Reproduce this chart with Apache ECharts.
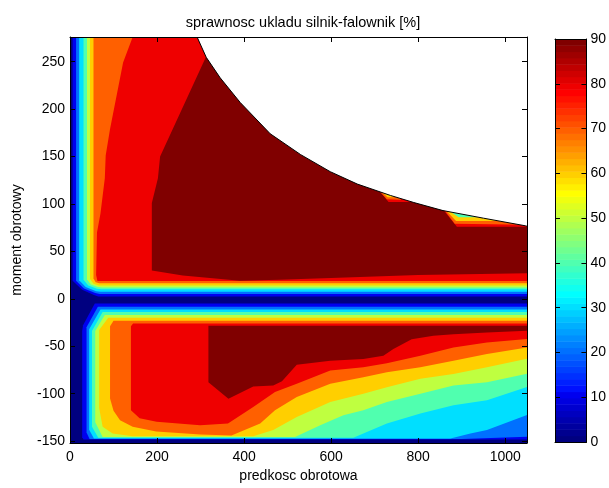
<!DOCTYPE html>
<html>
<head>
<meta charset="utf-8">
<title>sprawnosc ukladu silnik-falownik</title>
<script src="https://cdn.jsdelivr.net/npm/echarts@6/dist/echarts.min.js"></script>
<style>
  html, body { margin: 0; padding: 0; background: #fff; }
  #chart { width: 609px; height: 488px; }
</style>
</head>
<body>
<div id="chart"></div>
<script>
// osie
var speedTicks = [0, 200, 400, 600, 800, 1000];
var torqueTicks = [-150, -100, -50, 0, 50, 100, 150, 200, 250];
var levels = [0, 10, 20, 30, 40, 50, 60, 70, 80, 90];

// granica momentu (odczyt z wykresu)
var limitSpeed = [292, 313, 345, 391, 460, 530, 598, 660, 736, 790, 857, 950, 1046, 1050];
var limitTorque = [276, 254.6, 233, 207, 174, 152, 134, 121, 109, 101.5, 93, 85, 77, 76.5];

// obszary poziomic: punkty [predkosc, moment], wartosc >= poziom
var base = [[0, -152], [1050, -152], [1050, 276], [0, 276]];

var up10 = [[6, 276], [6, 19], [28, 9.5], [55, 4], [65, 2.5], [1050, 2.5], [1050, 276]];
var up20 = [[14, 276], [14, 19], [32, 11], [58, 6], [68, 5], [1050, 5], [1050, 276]];
var up30 = [[21, 276], [21, 19.5], [36, 12.5], [60, 8], [70, 7.5], [1050, 7.5], [1050, 276]];
var up40 = [[31, 276], [31, 20], [42, 14], [62, 10.5], [72, 10], [1050, 10], [1050, 276]];
var up50 = [[39, 276], [39, 20.5], [48, 15], [64, 12.5], [74, 12], [1050, 12], [1050, 276]];
var up60 = [[46, 276], [46, 21], [54, 16], [66, 14], [1050, 14], [1050, 276]];
var up70 = [[54, 276], [54, 21.5], [59, 17.5], [67, 16.3], [1050, 16.3], [1050, 276]];
var up80 = [[144, 276], [122, 249], [92, 179], [82, 151], [80, 127], [70, 90], [62, 70], [60, 25], [63, 18.7], [1050, 18.7], [1050, 276]];
var up90 = [[312, 254.6], [330, 276], [700, 276], [713, 112.5], [732, 102], [782, 102], [790, 276], [850, 276], [858, 93.7],
  [889, 76], [1050, 76], [1050, 27], [800, 25], [600, 22], [480, 20], [390, 19], [259, 24.6], [188, 29.8], [188, 101], [202, 127], [207, 150]];

var low10 = [[1050, -5], [57, -5], [30, -28], [28, -34], [28, -146], [31, -148.4], [1050, -148.4]];
var low20 = [[1050, -8.3], [64, -8.3], [38, -30], [38, -141], [45, -147.8], [900, -147.8], [1050, -145.5]];
var low30 = [[1050, -11.2], [70, -11.2], [44, -32], [44, -138], [55, -147.2], [874, -147.2], [920, -141.9], [958, -138.4], [1050, -122.5]];
var low40 = [[1050, -14], [75, -14], [50.5, -34], [50.5, -135], [65, -146.5], [651, -146.5], [728, -131.5], [805, -121], [881, -112.2], [958, -107], [1050, -93]];
var low50 = [[1050, -17], [80, -17], [58, -34], [58, -130], [75, -145.8], [517, -145.8], [575, -133.2], [628, -122.7], [674, -117.5], [728, -108.8],
  [805, -100.1], [881, -91.3], [958, -87.9], [1050, -79]];
var low60 = [[1050, -20], [88, -20], [67, -33], [67, -115], [75, -135], [98, -142], [144, -145], [421, -145], [467, -138.4], [521, -124.5],
  [598, -108.8], [674, -100.1], [728, -93.1], [805, -84.4], [881, -79.2], [958, -72.2], [1050, -63.3]];
var low70 = [[1050, -23], [100, -23], [92, -29], [92, -105], [100, -118], [115, -128], [144, -135], [198, -140], [300, -143], [371, -144],
  [437, -131.5], [471, -117.5], [521, -103.5], [598, -89.6], [674, -82.6], [728, -77.4], [805, -72.2], [881, -65.2], [958, -58.2], [1050, -51.2]];
var low80 = [[1050, -26], [145, -26], [140, -29], [140, -117.5], [160, -126], [199, -129.7], [299, -133.2], [363, -131.5], [421, -114], [471, -98.3],
  [521, -89.6], [598, -75.6], [674, -72.2], [728, -68], [805, -60], [881, -51.3], [958, -46], [1050, -42.4]];
var low90 = [[1050, -28.5], [318, -28.5], [318, -88], [364, -105.3], [421, -92.4], [467, -91.3], [487, -86.8], [521, -69.4], [598, -65.2],
  [674, -63.4], [720, -60], [743, -53], [785, -42.5], [835, -39], [881, -37.3], [958, -35.6], [1050, -33.7]];

// male wciecia pod granica
var notchA70 = [[716, 111], [728, 105], [760, 104.5], [760, 120], [716, 120]];
var notchA60 = [[720, 111], [730, 107], [745, 107], [745, 120], [720, 120]];
var notchB70 = [[861, 93], [884, 79], [1050, 78], [1050, 100], [861, 100]];
var notchB60 = [[864, 93], [887, 82], [980, 82], [1050, 80], [1050, 100], [864, 100]];
var notchB40 = [[870, 93], [893, 86], [935, 86], [935, 100], [870, 100]];

var regions = [
  [0, base],
  [10, up10], [10, low10],
  [20, up20], [20, low20],
  [30, up30], [30, low30],
  [40, up40], [40, low40],
  [50, up50], [50, low50],
  [60, up60], [60, low60],
  [70, up70], [70, low70],
  [80, up80], [80, low80],
  [90, up90], [90, low90],
  [70, notchA70], [60, notchA60],
  [70, notchB70], [60, notchB60], [40, notchB40]
];

// jet(64) jak w matlabie
function jet(i) {
  var r, g, b;
  r = i <= 24 ? 0 : i <= 40 ? (i - 24) / 16 : i <= 56 ? 1 : (72 - i) / 16;
  g = i <= 8 ? 0 : i <= 24 ? (i - 8) / 16 : i <= 40 ? 1 : i <= 56 ? (56 - i) / 16 : 0;
  b = i <= 8 ? (i + 7) / 16 : i <= 24 ? 1 : i <= 40 ? (40 - i) / 16 : 0;
  return 'rgb(' + Math.round(r * 255) + ',' + Math.round(g * 255) + ',' + Math.round(b * 255) + ')';
}
function levelColor(v) {
  var idx = Math.min(64, Math.floor(v / 90 * 64) + 1);
  return jet(idx);
}
var barSteps = [];
for (var i = 1; i <= 64; i++) barSteps.push(i);

var font = 'Liberation Sans, Arial, sans-serif';
var chart = echarts.init(document.getElementById('chart'));

var tickStyle = { inside: true, length: 5, lineStyle: { color: '#000' } };
var lineStyle = { show: true, onZero: false, lineStyle: { color: '#000', width: 1 } };
var plain = function (v) { return String(v); };

var option = {
  animation: false,
  backgroundColor: '#fff',
  title: {
    text: 'sprawnosc ukladu silnik-falownik [%]',
    left: 298,
    textAlign: 'center',
    top: 10,
    textStyle: { fontFamily: font, fontSize: 14.5, fontWeight: 'normal', color: '#000' }
  },
  grid: [
    { left: 70, top: 37, width: 457, height: 410 },
    { left: 555, top: 39, width: 34, height: 403 }
  ],
  xAxis: [
    {
      gridIndex: 0, type: 'value', min: 0, max: 1050, z: 10,
      name: 'predkosc obrotowa', nameLocation: 'middle', nameGap: 26,
      nameTextStyle: { fontFamily: font, fontSize: 14, color: '#000' },
      axisLine: lineStyle,
      axisTick: { inside: true, length: 5, lineStyle: { color: '#000' }, customValues: speedTicks },
      axisLabel: { margin: 7, fontFamily: font, fontSize: 14, color: '#000', customValues: speedTicks, formatter: plain },
      splitLine: { show: false }
    },
    {
      gridIndex: 0, type: 'value', min: 0, max: 1050, position: 'top', z: 10,
      axisLine: lineStyle,
      axisTick: { inside: true, length: 5, lineStyle: { color: '#000' }, customValues: speedTicks },
      axisLabel: { show: false },
      splitLine: { show: false }
    },
    {
      gridIndex: 1, type: 'value', min: 0, max: 1, z: 10,
      axisLine: lineStyle, axisTick: { show: false }, axisLabel: { show: false }, splitLine: { show: false }
    },
    {
      gridIndex: 1, type: 'value', min: 0, max: 1, position: 'top', z: 10,
      axisLine: lineStyle, axisTick: { show: false }, axisLabel: { show: false }, splitLine: { show: false }
    }
  ],
  yAxis: [
    {
      gridIndex: 0, type: 'value', min: -152, max: 276, z: 10,
      name: 'moment obrotowy', nameLocation: 'middle', nameGap: 46, nameRotate: 90,
      nameTextStyle: { fontFamily: font, fontSize: 14, color: '#000' },
      axisLine: lineStyle,
      axisTick: { inside: true, length: 5, lineStyle: { color: '#000' }, customValues: torqueTicks },
      axisLabel: { margin: 5, fontFamily: font, fontSize: 14, color: '#000', customValues: torqueTicks, formatter: plain },
      splitLine: { show: false }
    },
    {
      gridIndex: 0, type: 'value', min: -152, max: 276, position: 'right', z: 10,
      axisLine: lineStyle,
      axisTick: { inside: true, length: 5, lineStyle: { color: '#000' }, customValues: torqueTicks },
      axisLabel: { show: false },
      splitLine: { show: false }
    },
    {
      gridIndex: 1, type: 'value', min: 0, max: 90, interval: 10, position: 'right', z: 10,
      axisLine: lineStyle,
      axisTick: tickStyle,
      axisLabel: { margin: 4, fontFamily: font, fontSize: 14, color: '#000' },
      splitLine: { show: false }
    },
    {
      gridIndex: 1, type: 'value', min: 0, max: 90, interval: 10, position: 'left', z: 10,
      axisLine: lineStyle,
      axisTick: tickStyle,
      axisLabel: { show: false },
      splitLine: { show: false }
    }
  ],
  series: [
    {
      type: 'custom',
      xAxisIndex: 0, yAxisIndex: 0,
      clip: true,
      silent: true,
      data: regions.map(function (r) { return r[1][0]; }),
      renderItem: function (params, api) {
        var r = regions[params.dataIndex];
        return {
          type: 'polygon',
          shape: { points: r[1].map(function (p) { return api.coord(p); }) },
          style: { fill: levelColor(r[0]), stroke: null }
        };
      }
    },
    {
      // obszar powyzej granicy
      type: 'custom',
      xAxisIndex: 0, yAxisIndex: 0,
      clip: true,
      silent: true,
      data: [[limitSpeed[0], limitTorque[0]]],
      renderItem: function (params, api) {
        var pts = limitSpeed.map(function (s, k) { return api.coord([s, limitTorque[k]]); });
        pts.push(api.coord([1050, 300]));
        pts.push(api.coord([limitSpeed[0], 300]));
        return { type: 'polygon', shape: { points: pts }, style: { fill: '#fff' } };
      }
    },
    {
      type: 'line',
      xAxisIndex: 0, yAxisIndex: 0,
      data: limitSpeed.map(function (s, k) { return [s, limitTorque[k]]; }),
      symbol: 'none',
      silent: true,
      lineStyle: { color: '#000', width: 1 }
    },
    {
      // colorbar
      type: 'custom',
      xAxisIndex: 2, yAxisIndex: 2,
      silent: true,
      data: barSteps.map(function (s) { return [0, (s - 1) * 90 / 64]; }),
      renderItem: function (params, api) {
        var s = barSteps[params.dataIndex];
        var p0 = api.coord([0, (s - 1) * 90 / 64]);
        var p1 = api.coord([1, s * 90 / 64]);
        return {
          type: 'rect',
          shape: { x: p0[0], y: p1[1], width: p1[0] - p0[0], height: p0[1] - p1[1] + 0.5 },
          style: { fill: jet(s) }
        };
      }
    }
  ]
};

chart.setOption(option);
</script>
</body>
</html>
